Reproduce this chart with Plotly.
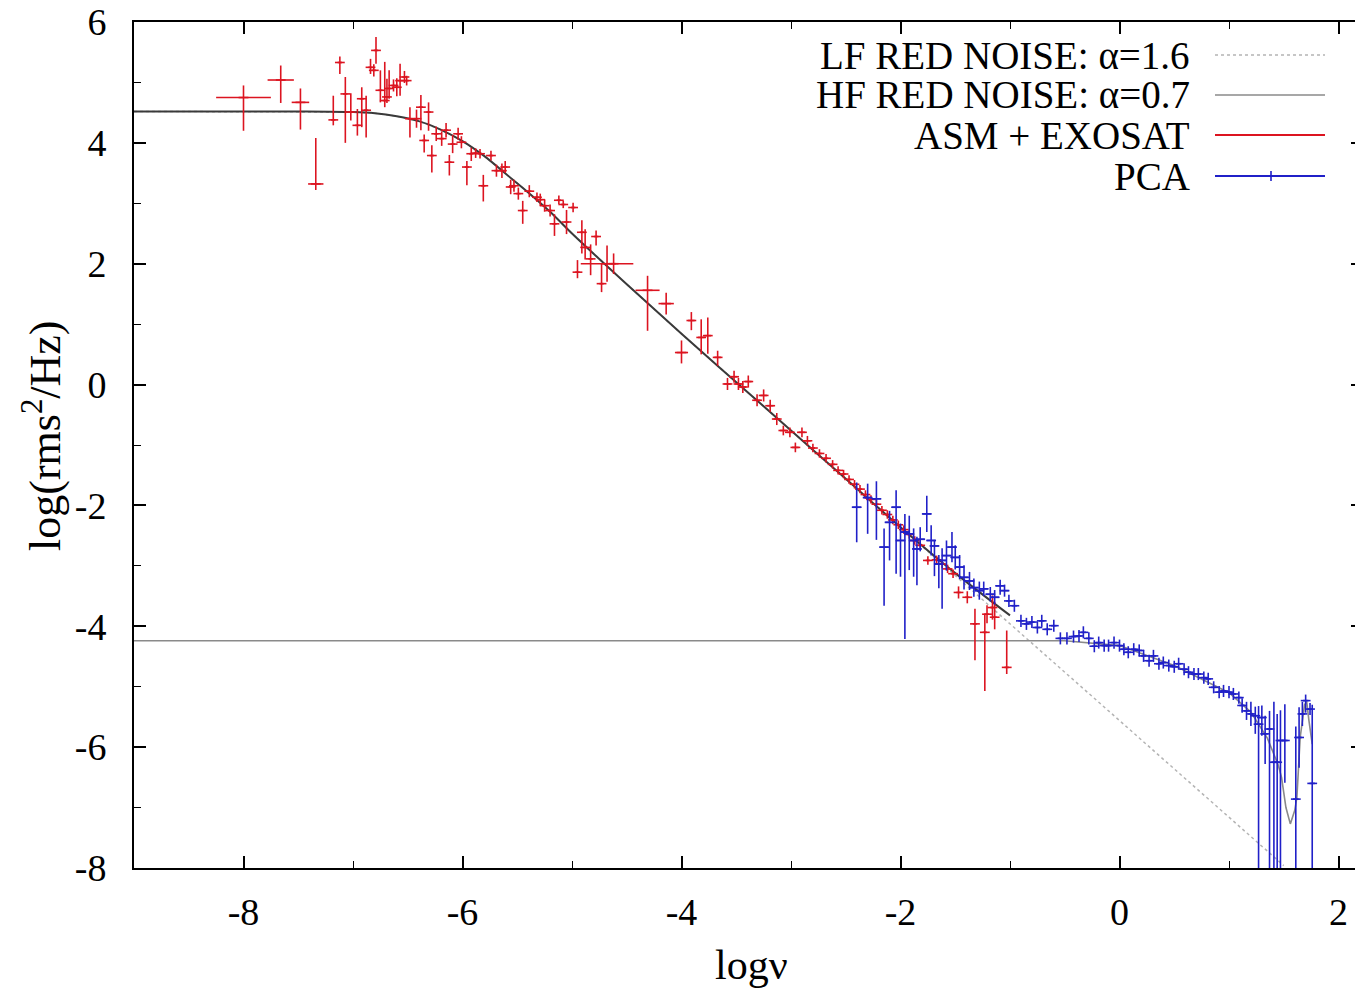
import plotly.graph_objects as go

# ---- figure geometry (pixels) ----
# the page body adds an 8 px margin, so the figure is laid out 8 px up/left
W, H = 1363, 993
OFF = 8
PLOT_L, PLOT_R, PLOT_T, PLOT_B = 134, 1363, 22, 868  # wanted plot box on the page
M_L, M_T = PLOT_L - OFF, PLOT_T - OFF
M_R = W - (PLOT_R - OFF)
M_B = H - (PLOT_B - OFF)
FONT = "Liberation Serif, Times New Roman, serif"

# ---- axis ticks ----
x_ticks = [-8, -6, -4, -2, 0, 2]
x_tick_text = ["-8", "-6", "-4", "-2", "0", "2"]
y_ticks = [-8, -6, -4, -2, 0, 2, 4, 6]
y_tick_text = ["-8", "-6", "-4", "-2", "0", "2", "4", "6"]

# ---- model curves ----
total_x = [-9.0, -8.0, -7.5, -7.0, -6.8, -6.6, -6.4, -6.2, -6.0, -5.8, -5.6,
           -5.4, -5.2, -5.0, -4.5, -4.0, -3.5, -3.0, -2.5, -2.0, -1.5, -1.0]
total_y = [4.52, 4.52, 4.52, 4.51, 4.49, 4.44, 4.36, 4.22, 4.03, 3.78, 3.48,
           3.18, 2.86, 2.50, 1.66, 0.84, 0.04, -0.76, -1.56, -2.36, -3.12, -3.82]

lf_x = [-9.0, -8.0, -7.5, -7.0, -6.8, -6.6, -6.4, -6.2, -6.0, -5.8, -5.6,
        -5.4, -5.2, -5.0, -4.5, -4.0, -3.5, -3.0, -2.5, -2.0, -1.5, -1.0,
        -0.5, 0.0, 0.5, 1.0, 1.5]
lf_y = [4.52, 4.52, 4.52, 4.51, 4.49, 4.44, 4.36, 4.22, 4.03, 3.78, 3.48,
        3.18, 2.86, 2.50, 1.66, 0.84, 0.04, -0.76, -1.56, -2.36, -3.16, -3.96,
        -4.76, -5.56, -6.36, -7.16, -7.96]

hf_x = [-9.0, -1.0, -0.5, 0.0, 0.5, 1.0, 1.2, 1.35, 1.45, 1.48, 1.52, 1.56,
        1.60, 1.62, 1.65, 1.69, 1.71, 1.73, 1.76]
hf_y = [-4.24, -4.24, -4.24, -4.32, -4.65, -5.10, -5.42, -5.85, -6.30, -6.50,
        -7.00, -7.27, -7.05, -6.83, -5.84, -5.30, -5.25, -5.56, -5.95]

# ---- ASM + EXOSAT data ----
asm_x = [
    -8.00, -7.66, -7.48, -7.34, -7.18, -7.12, -7.07, -7.02, -6.96, -6.92,
    -6.88, -6.84, -6.81, -6.79, -6.75, -6.71, -6.69, -6.67, -6.63, -6.60,
    -6.57, -6.53, -6.51, -6.48, -6.42, -6.38, -6.35, -6.31, -6.28, -6.24,
    -6.19, -6.15, -6.12,
    -6.09, -6.04, -6.01, -5.96, -5.92, -5.88, -5.84, -5.81, -5.74, -5.69,
    -5.64, -5.61, -5.56, -5.53, -5.49, -5.45, -5.39, -5.32, -5.29, -5.25,
    -5.20, -5.16, -5.12, -5.08, -5.05, -4.99, -4.95, -4.91, -4.88, -4.83,
    -4.78, -4.73, -4.68, -4.62, -4.31, -4.14, -4.00, -3.91, -3.82, -3.76,
    -3.67, -3.58, -3.52, -3.48, -3.44, -3.39, -3.31, -3.25, -3.19, -3.13,
    -3.07, -3.01, -2.96, -2.90, -2.85,
    -2.80, -2.74, -2.68, -2.62, -2.57, -2.52, -2.47, -2.42, -2.37, -2.32,
    -2.27, -2.22, -2.17, -2.12, -2.07, -2.02, -1.97, -1.92, -1.87, -1.82,
    -1.75, -1.67, -1.62, -1.57, -1.52, -1.47, -1.39, -1.32, -1.23, -1.21,
    -1.16, -1.14, -1.03,
]
asm_y = [
    4.75, 5.04, 4.67, 3.32, 4.38, 5.33, 4.81, 4.51, 4.29, 4.73,
    4.54, 5.25, 5.20, 5.53, 4.87, 4.70, 4.76, 4.90, 4.95, 4.92,
    5.03, 5.09, 5.03, 4.40, 4.40, 4.59, 4.04, 4.51, 3.79, 4.15,
    4.07, 4.21, 3.68,
    3.98, 4.15, 4.01, 3.60, 3.82, 3.83, 3.82, 3.29, 3.79, 3.54,
    3.54, 3.60, 3.27, 3.29, 3.16, 2.88, 3.20, 3.10, 3.06, 2.96,
    2.88, 2.66, 3.05, 2.98, 2.69, 2.93, 1.86, 2.52, 2.27, 2.08,
    2.45, 1.67, 2.00, 2.00, 1.56, 1.34, 0.53, 1.06, 0.78, 0.81,
    0.45, 0.01, 0.13, 0.01, -0.04, 0.05, -0.26, -0.18, -0.35, -0.57,
    -0.76, -0.79, -1.04, -0.79, -0.93,
    -1.05, -1.14, -1.22, -1.32, -1.42, -1.48, -1.57, -1.65, -1.73, -1.82,
    -1.90, -1.98, -2.08, -2.15, -2.24, -2.32, -2.40, -2.48, -2.58, -2.66,
    -2.91, -2.90, -2.97, -3.05, -3.13, -3.44, -3.52, -3.96, -4.10, -3.80,
    -3.69, -3.85, -4.68,
]
asm_dx = [
    0.25, 0.12, 0.08, 0.07, 0.02, 0.02, 0.02, 0.02, 0.02, 0.02,
    0.02, 0.02, 0.02, 0.02, 0.02, 0.02, 0.02, 0.02, 0.02, 0.02,
    0.02, 0.02, 0.02, 0.02, 0.02, 0.02, 0.02, 0.02, 0.02, 0.02,
    0.02, 0.02, 0.02,
    0.02, 0.02, 0.02, 0.02, 0.02, 0.02, 0.02, 0.02, 0.02, 0.02,
    0.02, 0.02, 0.02, 0.02, 0.02, 0.02, 0.02, 0.02, 0.02, 0.02,
    0.02, 0.02, 0.02, 0.02, 0.02, 0.02, 0.02, 0.02, 0.02, 0.02,
    0.02, 0.02, 0.24, 0.02, 0.11, 0.07, 0.06, 0.03, 0.03, 0.03,
    0.03, 0.03, 0.03, 0.03, 0.03, 0.03, 0.03, 0.03, 0.03, 0.03,
    0.03, 0.03, 0.03, 0.03, 0.03,
    0.02, 0.02, 0.02, 0.02, 0.02, 0.02, 0.02, 0.02, 0.02, 0.02,
    0.02, 0.02, 0.02, 0.02, 0.02, 0.02, 0.02, 0.02, 0.02, 0.02,
    0.02, 0.02, 0.02, 0.02, 0.02, 0.02, 0.02, 0.02, 0.02, 0.02,
    0.02, 0.02, 0.02,
]
asm_up = [
    0.20, 0.24, 0.23, 0.76, 0.40, 0.10, 0.28, 0.31, 0.27, 0.19,
    0.24, 0.14, 0.10, 0.22, 0.33, 0.64, 0.30, 0.30, 0.10, 0.15,
    0.28, 0.10, 0.08, 0.19, 0.15, 0.20, 0.10, 0.16, 0.17, 0.12,
    0.12, 0.12, 0.12,
    0.15, 0.10, 0.10, 0.10, 0.10, 0.08, 0.08, 0.18, 0.08, 0.10,
    0.12, 0.10, 0.12, 0.10, 0.10, 0.16, 0.10, 0.08, 0.10, 0.10,
    0.10, 0.16, 0.08, 0.06, 0.20, 0.08, 0.20, 0.20, 0.30, 0.24,
    0.10, 0.33, 0.30, 0.17, 0.24, 0.18, 0.20, 0.14, 0.30, 0.30,
    0.11, 0.10, 0.10, 0.10, 0.10, 0.10, 0.10, 0.10, 0.10, 0.10,
    0.08, 0.08, 0.08, 0.08, 0.08,
    0.07, 0.07, 0.07, 0.07, 0.07, 0.07, 0.07, 0.07, 0.07, 0.07,
    0.07, 0.07, 0.07, 0.07, 0.07, 0.07, 0.07, 0.07, 0.07, 0.07,
    0.07, 0.07, 0.07, 0.07, 0.07, 0.10, 0.10, 0.25, 0.31, 0.15,
    0.20, 0.25, 0.61,
]
asm_dn = [
    0.55, 0.38, 0.45, 0.10, 0.09, 0.19, 0.81, 0.14, 0.17, 0.47,
    0.45, 0.11, 0.10, 0.22, 0.20, 0.11, 0.10, 0.17, 0.10, 0.15,
    0.25, 0.10, 0.08, 0.31, 0.15, 0.38, 0.20, 0.31, 0.28, 0.12,
    0.12, 0.12, 0.22,
    0.15, 0.10, 0.10, 0.30, 0.12, 0.08, 0.08, 0.26, 0.08, 0.10,
    0.12, 0.10, 0.12, 0.10, 0.10, 0.22, 0.10, 0.08, 0.10, 0.10,
    0.10, 0.20, 0.06, 0.06, 0.20, 0.08, 0.10, 0.35, 0.20, 0.27,
    0.15, 0.14, 0.30, 0.17, 0.67, 0.18, 0.18, 0.16, 0.28, 0.30,
    0.14, 0.10, 0.10, 0.10, 0.10, 0.10, 0.10, 0.10, 0.10, 0.10,
    0.08, 0.08, 0.08, 0.08, 0.08,
    0.07, 0.07, 0.07, 0.07, 0.07, 0.07, 0.07, 0.07, 0.07, 0.07,
    0.07, 0.07, 0.07, 0.07, 0.07, 0.07, 0.07, 0.07, 0.07, 0.07,
    0.07, 0.07, 0.07, 0.07, 0.07, 0.10, 0.10, 0.60, 0.97, 0.15,
    0.20, 0.20, 0.11,
]

# ---- PCA data ----
pca_x = [
    -2.40, -2.30, -2.22, -2.15, -2.10, -2.04, -2.00, -1.96, -1.92, -1.88,
    -1.85, -1.82, -1.76, -1.72, -1.69, -1.65, -1.62, -1.58, -1.53, -1.50,
    -1.46, -1.42, -1.37, -1.33, -1.28, -1.24, -1.18, -1.14, -1.09, -1.05,
    -1.01, -0.96, -0.90, -0.85, -0.80, -0.75, -0.71, -0.66, -0.60, -0.54,
    -0.48, -0.42, -0.37, -0.33, -0.28, -0.23, -0.19, -0.14, -0.10, -0.05,
    0.00, 0.04, 0.08, 0.13, 0.18, 0.22, 0.27, 0.31, 0.36, 0.40,
    0.45, 0.50, 0.54, 0.59, 0.63, 0.68, 0.72, 0.77, 0.81, 0.86,
    0.91, 0.95, 1.00, 1.04, 1.09, 1.12, 1.16, 1.20, 1.24, 1.27,
    1.30, 1.33, 1.37, 1.41, 1.44, 1.47, 1.51, 1.61, 1.64, 1.67,
    1.70, 1.74, 1.76,
]
pca_y = [
    -2.03, -1.87, -1.89, -2.69, -2.28, -2.03, -2.58, -2.44, -2.47, -2.58,
    -2.72, -2.56, -2.14, -2.58, -2.67, -2.97, -2.91, -2.83, -2.69, -2.86,
    -3.02, -3.19, -3.25, -3.36, -3.41, -3.38, -3.47, -3.52, -3.33, -3.41,
    -3.58, -3.66, -3.91, -3.96, -3.93, -4.02, -3.91, -4.05, -3.99, -4.20,
    -4.20, -4.17, -4.16, -4.10, -4.20, -4.33, -4.27, -4.32, -4.32, -4.27,
    -4.32, -4.38, -4.43, -4.38, -4.40, -4.49, -4.57, -4.49, -4.62, -4.60,
    -4.65, -4.67, -4.62, -4.71, -4.76, -4.79, -4.79, -4.85, -4.87, -5.01,
    -5.09, -5.07, -5.09, -5.12, -5.18, -5.31, -5.40, -5.45, -5.48, -5.62,
    -5.51, -5.78, -5.70, -6.25, -6.25, -5.89, -5.89, -6.86, -5.84, -5.45,
    -5.23, -5.37, -6.60,
]
pca_dx = [0.04] * 30 + [0.025] * 63
pca_up = [
    0.41, 0.23, 0.29, 0.31, 0.19, 0.28, 0.28, 0.30, 0.30, 0.20,
    0.20, 0.20, 0.30, 0.25, 0.10, 0.15, 0.20, 0.25, 0.25, 0.20,
    0.20, 0.20, 0.15, 0.15, 0.15, 0.12, 0.12, 0.12, 0.10, 0.10,
    0.10, 0.10, 0.10, 0.10, 0.10, 0.10, 0.10, 0.10, 0.10, 0.10,
    0.10, 0.10, 0.10, 0.10, 0.10, 0.10, 0.10, 0.10, 0.10, 0.10,
    0.10, 0.10, 0.10, 0.10, 0.10, 0.10, 0.10, 0.10, 0.10, 0.10,
    0.10, 0.10, 0.10, 0.10, 0.10, 0.10, 0.10, 0.10, 0.10, 0.10,
    0.10, 0.10, 0.10, 0.10, 0.10, 0.12, 0.15, 0.20, 0.15, 0.30,
    0.20, 0.30, 0.30, 1.00, 0.80, 0.50, 0.60, 1.20, 0.50, 0.20,
    0.10, 0.10, 1.30,
]
pca_dn = [
    0.58, 0.60, 0.68, 0.97, 0.63, 1.10, 0.60, 1.77, 0.60, 0.60,
    0.60, 0.20, 0.30, 0.25, 0.50, 0.40, 0.80, 0.25, 0.25, 0.20,
    0.20, 0.20, 0.15, 0.15, 0.15, 0.12, 0.12, 0.12, 0.15, 0.10,
    0.10, 0.10, 0.10, 0.10, 0.10, 0.10, 0.10, 0.10, 0.10, 0.10,
    0.10, 0.10, 0.10, 0.10, 0.10, 0.10, 0.10, 0.10, 0.10, 0.10,
    0.10, 0.10, 0.10, 0.10, 0.10, 0.10, 0.10, 0.10, 0.10, 0.10,
    0.10, 0.10, 0.10, 0.10, 0.10, 0.10, 0.10, 0.10, 0.10, 0.10,
    0.10, 0.10, 0.10, 0.10, 0.10, 0.12, 0.15, 0.20, 0.30, 3.00,
    0.30, 0.50, 3.00, 3.00, 3.00, 3.00, 0.70, 3.00, 0.50, 0.20,
    0.20, 0.10, 3.00,
]

legend_labels = ["LF RED NOISE: \u03b1=1.6", "HF RED NOISE: \u03b1=0.7",
                 "ASM + EXOSAT", "PCA"]

RED = "#dc1420"
BLUE = "#2020c8"
DARK = "#3a3a3a"
GRAY = "#8a8a8a"
LIGHT = "#b4b4b4"


def data_trace(x, y, dx, up, dn, color):
    return go.Scatter(
        x=x, y=y, mode="markers", showlegend=False,
        marker=dict(symbol="line-ew", size=7, color=color,
                    line=dict(color=color, width=1.6)),
        error_x=dict(type="data", array=dx, width=0, thickness=1.6, color=color),
        error_y=dict(type="data", symmetric=False, array=up, arrayminus=dn,
                     width=0, thickness=1.6, color=color),
    )


fig = go.Figure()
fig.add_trace(go.Scatter(x=lf_x, y=lf_y, mode="lines", showlegend=False,
                         line=dict(color=LIGHT, width=1.5, dash="dot")))
fig.add_trace(go.Scatter(x=hf_x, y=hf_y, mode="lines", showlegend=False,
                         line=dict(color=GRAY, width=1.6)))
fig.add_trace(go.Scatter(x=total_x, y=total_y, mode="lines", showlegend=False,
                         line=dict(color=DARK, width=2, shape="spline")))
fig.add_trace(data_trace(asm_x, asm_y, asm_dx, asm_up, asm_dn, RED))
fig.add_trace(data_trace(pca_x, pca_y, pca_dx, pca_up, pca_dn, BLUE))


# page pixel -> paper helpers for the decorations
def px_x(p):
    return (p - PLOT_L) / (PLOT_R - PLOT_L)


def px_y(p):
    return (PLOT_B - p) / (PLOT_B - PLOT_T)


# ---- hand-made gnuplot style key (text left, sample right) ----
key_rows = [55, 95, 135, 176]
key_styles = [dict(color=LIGHT, width=1.5, dash="dot"),
              dict(color=GRAY, width=1.6),
              dict(color=RED, width=2),
              dict(color=BLUE, width=2)]
for label, row, style in zip(legend_labels, key_rows, key_styles):
    fig.add_annotation(x=px_x(1192), y=px_y(row), xref="paper", yref="paper",
                       text=label, showarrow=False, xanchor="right", yanchor="middle",
                       font=dict(family=FONT, size=39, color="black"))
    fig.add_shape(type="line", xref="paper", yref="paper",
                  x0=px_x(1215), x1=px_x(1325), y0=px_y(row), y1=px_y(row), line=style)
fig.add_shape(type="line", xref="paper", yref="paper",
              x0=px_x(1271), x1=px_x(1271), y0=px_y(171), y1=px_y(181),
              line=dict(color=BLUE, width=1.6))

# ---- axis titles ----
fig.add_annotation(x=px_x(751), y=px_y(965), xref="paper", yref="paper",
                   text="log\u03bd", showarrow=False, xanchor="center", yanchor="middle",
                   font=dict(family=FONT, size=42, color="black"))
fig.add_annotation(x=px_x(42), y=px_y(436), xref="paper", yref="paper",
                   text="log(rms<sup>2</sup>/Hz)", showarrow=False, textangle=-90,
                   xanchor="center", yanchor="middle",
                   font=dict(family=FONT, size=44, color="black"))

axis_common = dict(
    showline=True, linecolor="black", linewidth=2, mirror="allticks",
    ticks="inside", ticklen=12, tickwidth=1.5, tickcolor="black",
    showgrid=False, zeroline=False, automargin=False, ticklabeloverflow="allow",
    tickfont=dict(family=FONT, size=38, color="black"),
)
fig.update_xaxes(
    range=[-9, -9 + (PLOT_R - PLOT_L) / 109.5], tickmode="array",
    tickvals=x_ticks, ticktext=x_tick_text, ticklabelstandoff=9,
    minor=dict(tickmode="linear", tick0=-9, dtick=1, ticks="inside", ticklen=7,
               tickwidth=1.2, tickcolor="black"),
    **axis_common,
)
fig.update_yaxes(
    range=[-8, 6], tickmode="array", tickvals=y_ticks, ticktext=y_tick_text,
    ticklabelstandoff=18,
    minor=dict(tickmode="linear", tick0=-8, dtick=1, ticks="inside", ticklen=7,
               tickwidth=1.2, tickcolor="black"),
    **axis_common,
)
fig.update_layout(
    width=W, height=H, margin=dict(l=M_L, r=M_R, t=M_T, b=M_B),
    plot_bgcolor="white", paper_bgcolor="white", showlegend=False,
    font=dict(family=FONT, color="black"),
)

fig.write_html("out.html")
